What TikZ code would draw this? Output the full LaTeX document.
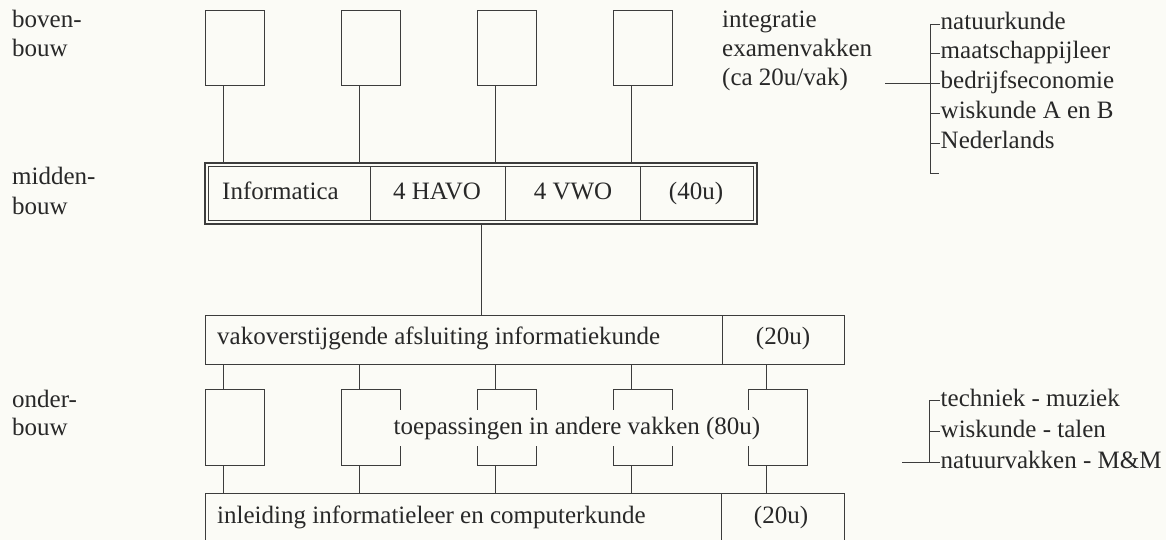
\documentclass[tikz,border=0pt]{standalone}
\usepackage{fontspec}
\setmainfont{Liberation Serif}
\usetikzlibrary{calc}
\definecolor{bg}{RGB}{251,251,246}
\definecolor{ink}{RGB}{40,40,40}
\definecolor{ln}{RGB}{60,60,60}
\begin{document}
\fontsize{25}{30}\selectfont
\begin{tikzpicture}[x=1pt,y=-1pt,
  every node/.style={font=\fontsize{25}{30}\selectfont, text=ink, inner sep=0pt},
  boxn/.style={draw=ln, line width=1pt, rectangle, minimum height=#1},
  boxn/.default=75,
  conn/.style={draw=ln, line width=0.8pt},
  divl/.style={draw=ln, line width=0.9pt},
  lbl/.style={anchor=base west},
  item/.style={anchor=base west, inner xsep=0.5pt},
  cell/.style={anchor=base}
]
\useasboundingbox (0,0) rectangle (1166,540);
\fill[bg] (0,0) rectangle (1166,540);
\clip (0,0) rectangle (1166,540);

% left labels
\node[lbl] (lb1) at (12,28) {boven-};
\node[lbl] (lb2) at (12,57) {bouw};
\node[lbl] (lm1) at (12,185) {midden-};
\node[lbl] (lm2) at (12,214) {bouw};
\node[lbl] (lo1) at (12,407) {onder-};
\node[lbl] (lo2) at (12,435) {bouw};

% top boxes
\node[boxn, minimum width=59pt] (t1) at (234.5,48.5) {};
\node[boxn, minimum width=59pt] (t2) at (370.5,48.5) {};
\node[boxn, minimum width=59pt] (t3) at (506.5,48.5) {};
\node[boxn, minimum width=59pt] (t4) at (642.5,48.5) {};

% Informatica double box
\node[draw=ln, line width=1.6pt, minimum width=552pt, minimum height=61pt] (inf) at (481,193.5) {};
\coordinate (ii) at ([shift={(4,4)}]inf.north west);
\coordinate (io) at ([shift={(-4,-4)}]inf.south east);
\draw[divl] (ii) rectangle (io);
\draw[divl] (370,167) -- (370,220);
\draw[divl] (505,167) -- (505,220);
\draw[divl] (640,167) -- (640,220);
\node[lbl] (c1) at (222,200) {Informatica};
\node[cell] (c2) at (437,200) {4 HAVO};
\node[cell] (c3) at (573,200) {4 VWO};
\node[cell] (c4) at (696,200) {(40u)};

% connectors top boxes -> Informatica
\foreach \i in {1,2,3,4}{
  \coordinate (a\i) at ([xshift=18.5pt]t\i.south west);
  \draw[conn] (a\i) -- (a\i |- inf.north);
}

% vakoverstijgende box
\node[boxn=49, minimum width=639pt] (vako) at (524.5,339.5) {};
\draw[divl] (722,315) -- (722,364);
\node[lbl] (vt) at (217,344) {vakoverstijgende afsluiting informatiekunde};
\node[cell] (vu) at (783,344) {(20u)};
\draw[conn] (inf.south) -- (inf.south |- vako.north);

% lower boxes
\node[boxn=76, minimum width=59pt] (b1) at (234.5,427) {};
\node[boxn=76, minimum width=59pt] (b2) at (370.5,427) {};
\node[boxn=76, minimum width=59pt] (b3) at (506.5,427) {};
\node[boxn=76, minimum width=59pt] (b4) at (642.5,427) {};
\node[boxn=76, minimum width=59pt] (b5) at (777.5,427) {};
\node[fill=bg, anchor=base, inner xsep=2pt, inner ysep=6.5pt] (toep) at (577,434) {toepassingen in andere vakken (80u)};

% inleiding box
\node[boxn=87, minimum width=639pt] (inl) at (524.5,536.5) {};
\draw[divl] (721,493) -- (721,580);
\node[lbl] (it) at (217,523) {inleiding informatieleer en computerkunde};
\node[cell] (iu) at (781,523) {(20u)};

\foreach \i in {1,...,5}{
  \coordinate (v\i) at ([xshift=19pt]b\i.north west);
  \coordinate (w\i) at ([xshift=19pt]b\i.south west);
  \draw[conn] (v\i |- vako.south) -- (v\i);
  \draw[conn] (w\i) -- (w\i |- inl.north);
}

% right top labels and bracket
\node[lbl] (r1) at (722,28) {integratie};
\node[lbl] (r2) at (722,57) {examenvakken};
\node[lbl] (r3) at (722,86) {(ca 20u/vak)};
\node[item] (n1) at (940,30) {natuurkunde};
\node[item] (n2) at (940,59) {maatschappijleer};
\node[item] (n3) at (940,89) {bedrijfseconomie};
\node[item] (n4) at (940,119) {wiskunde A en B};
\node[item] (n5) at (940,149) {Nederlands};
\foreach \i in {1,...,5}{ \coordinate (k\i) at ([yshift=6pt]n\i.base west); }
\coordinate (brT) at (930,0 |- k1);
\coordinate (brB) at (930,173);
\coordinate (h0) at (885,0 |- k3);
\draw[conn] (brT) -- (brB) -- ++(9,0);
\foreach \i in {1,...,5}{ \draw[conn] (brT |- k\i) -- (k\i); }
\draw[conn] (h0) -- (h0 -| brT);

% right bottom bracket
\node[item] (m1) at (940,406) {techniek - muziek};
\node[item] (m2) at (940,437) {wiskunde - talen};
\node[item] (m3) at (940,468) {natuurvakken - M\&M};
\foreach \i in {1,2,3}{ \coordinate (q\i) at ([yshift=6pt]m\i.base west); }
\coordinate (bq) at (929,0 |- q1);
\coordinate (h1) at (902,0 |- q3);
\draw[conn] (bq) -- (bq |- q3);
\foreach \i in {1,2,3}{ \draw[conn] (bq |- q\i) -- (q\i); }
\draw[conn] (h1) -- (h1 -| bq);
\end{tikzpicture}
\end{document}
